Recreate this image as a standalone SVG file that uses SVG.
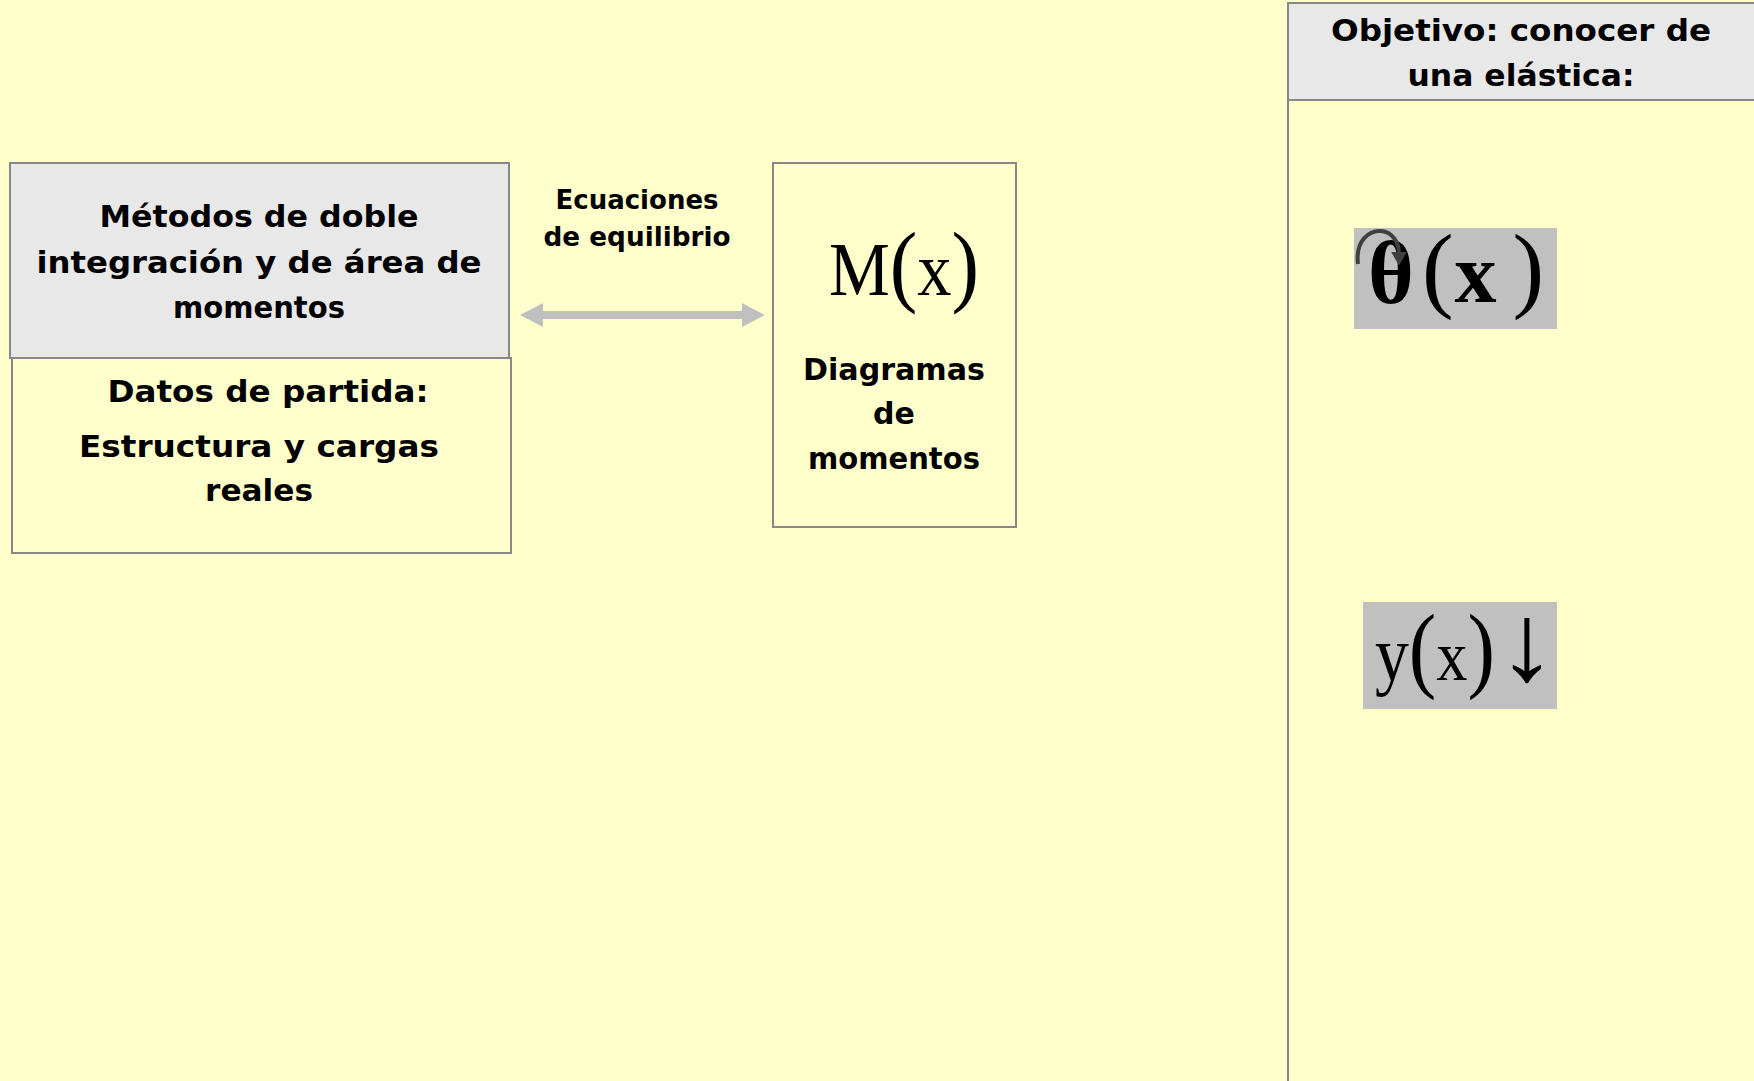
<svg xmlns="http://www.w3.org/2000/svg" width="1754" height="1081" viewBox="0 0 1754 1081">
<style>
.bg{fill:#ffffcc}
.box{stroke:#888888;stroke-width:2}
.grey{fill:#e8e8e8}
.yel{fill:#ffffcc}
.t{font-family:"DejaVu Sans","Liberation Sans",sans-serif;font-weight:bold;fill:#000;text-anchor:middle}
.m{font-family:"Liberation Serif","Times New Roman",serif;fill:#000}
</style>
<defs>
<marker id="hd" viewBox="0 -12 23 24" refX="0" refY="0" markerWidth="23" markerHeight="24" markerUnits="userSpaceOnUse" orient="auto-start-reverse">
<path d="M0,-12 L23,0 L0,12 Z" fill="#c0c0c0"/>
</marker>
<marker id="sh" viewBox="0 -7 12 14" refX="2" refY="0" markerWidth="14" markerHeight="16" markerUnits="userSpaceOnUse" orient="auto">
<path d="M0,-7 L12,0 L0,7 Z" fill="#404040"/>
</marker>
</defs>
<rect class="bg" x="0" y="0" width="1754" height="1081"/>

<g id="node-metodos">
<rect class="box grey" x="10" y="163" width="499" height="195"/>
<text class="t" font-size="31" x="259" y="227" textLength="319" lengthAdjust="spacingAndGlyphs">Métodos de doble</text>
<text class="t" font-size="31" x="259" y="273" textLength="445" lengthAdjust="spacingAndGlyphs">integración y de área de</text>
<text class="t" font-size="31" x="259" y="318" textLength="172" lengthAdjust="spacingAndGlyphs">momentos</text>
</g>

<g id="node-datos">
<rect class="box yel" x="12" y="358" width="499" height="195"/>
<text class="t" font-size="31" x="268" y="402" textLength="321" lengthAdjust="spacingAndGlyphs">Datos de partida:</text>
<text class="t" font-size="31" x="259" y="457" textLength="360" lengthAdjust="spacingAndGlyphs">Estructura y cargas</text>
<text class="t" font-size="31" x="259" y="501" textLength="108" lengthAdjust="spacingAndGlyphs">reales</text>
</g>

<g id="node-momentos">
<rect class="box yel" x="773" y="163" width="243" height="364"/>
<text class="m" x="829" y="295" font-size="76" textLength="150" lengthAdjust="spacingAndGlyphs">M<tspan font-size="92">(</tspan>x<tspan font-size="92">)</tspan></text>
<text class="t" font-size="30" x="894" y="380" textLength="182" lengthAdjust="spacingAndGlyphs">Diagramas</text>
<text class="t" font-size="30" x="894" y="424">de</text>
<text class="t" font-size="30" x="894" y="469" textLength="172" lengthAdjust="spacingAndGlyphs">momentos</text>
</g>

<g id="node-objetivo">
<rect class="box yel" x="1288" y="3" width="480" height="1090"/>
<rect class="box grey" x="1288" y="3" width="480" height="97"/>
<text class="t" font-size="30" x="1521" y="41" textLength="380" lengthAdjust="spacingAndGlyphs">Objetivo: conocer de</text>
<text class="t" font-size="30" x="1521" y="86" textLength="227" lengthAdjust="spacingAndGlyphs">una elástica:</text>
</g>

<g id="node-theta">
<rect x="1354" y="228" width="203" height="101" fill="#c0c0c0"/>
<text class="m" x="1368" y="303" font-size="88" font-weight="bold">θ<tspan font-size="95" font-weight="normal" y="300" dx="8">(</tspan><tspan font-size="84" y="302" dx="1">x</tspan><tspan font-size="95" font-weight="normal" y="300" dx="16">)</tspan></text>
<path d="M1358,264 C1355,240 1370,230 1381,231 C1393,232 1399,243 1399,254" fill="none" stroke="#404040" stroke-width="4" marker-end="url(#sh)"/>
</g>

<g id="node-y">
<rect x="1363" y="602" width="194" height="107" fill="#c0c0c0"/>
<text class="m" x="1375" y="680" font-size="78" textLength="120" lengthAdjust="spacingAndGlyphs">y<tspan font-size="95">(</tspan><tspan font-size="72">x</tspan><tspan font-size="95">)</tspan></text>
<text class="m" x="1497" y="680" font-size="110" textLength="60" lengthAdjust="spacingAndGlyphs">↓</text>
</g>

<g id="connectors">
<line x1="543" y1="315" x2="742" y2="315" stroke="#c0c0c0" stroke-width="8" marker-start="url(#hd)" marker-end="url(#hd)"/>
<text class="t" font-size="27" x="637" y="209" textLength="163" lengthAdjust="spacingAndGlyphs">Ecuaciones</text>
<text class="t" font-size="27" x="637" y="246" textLength="187" lengthAdjust="spacingAndGlyphs">de equilibrio</text>
</g>
</svg>
